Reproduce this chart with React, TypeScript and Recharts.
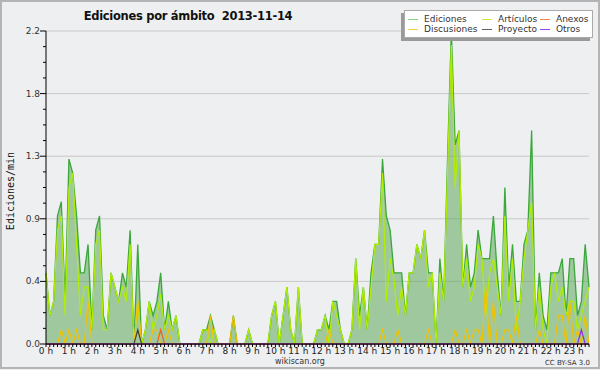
import React from 'react';
import { ComposedChart, Area, Line, XAxis, YAxis, CartesianGrid } from 'recharts';

// 10-minute slots, edits per minute
const ediciones = [
  0.5, 0.2, 0.3, 0.9, 1.0, 0.3, 1.3, 1.2, 0.9, 0.5, 0.5, 0.7,
  0.1, 0.8, 0.9, 0.2, 0.1, 0.5, 0.4, 0.3, 0.5, 0.4, 0.8, 0,
  0.7, 0, 0.1, 0.3, 0.2, 0.3, 0.5, 0.1, 0.3, 0.1, 0.2, 0,
  0, 0, 0, 0, 0, 0.1, 0.1, 0.2, 0.1, 0, 0, 0,
  0, 0.2, 0, 0, 0, 0.1, 0, 0, 0, 0, 0, 0.2,
  0.3, 0, 0.2, 0.4, 0.1, 0, 0.4, 0, 0, 0, 0, 0.1,
  0.1, 0.2, 0.1, 0.3, 0.3, 0.1, 0, 0, 0.1, 0.6, 0.2, 0.4,
  0.1, 0.5, 0.7, 0.7, 1.3, 0.9, 0.8, 0.5, 0.5, 0.5, 0.2, 0.5,
  0.5, 0.7, 0.6, 0.8, 0.5, 0.5, 0, 0.6, 0.3, 1.3, 2.2, 1.4,
  1.5, 0.4, 0.7, 0.4, 0.5, 0.8, 0.6, 0.6, 0.6, 0.9, 0.5, 0.2,
  1.1, 0.4, 0.7, 0.3, 0.3, 0.7, 0.8, 1.5, 0.1, 0.5, 0.2, 0.1,
  0.5, 0.5, 0.5, 0.6, 0.2, 0.6, 0.6, 0.2, 0.3, 0.7, 0.4,
];

const articulos = [
  0.5, 0.2, 0.3, 0.8, 0.9, 0.2, 1.1, 1.2, 0.7, 0.2, 0.4, 0.4,
  0.1, 0.7, 0.8, 0.1, 0.1, 0.5, 0.4, 0.3, 0.4, 0.3, 0.7, 0,
  0.3, 0, 0.1, 0.3, 0.1, 0.2, 0.35, 0.1, 0.2, 0.1, 0.2, 0,
  0, 0, 0, 0, 0, 0.1, 0.1, 0, 0.1, 0, 0, 0,
  0, 0, 0, 0, 0, 0.1, 0, 0, 0, 0, 0, 0.2,
  0.3, 0, 0.2, 0.4, 0.1, 0, 0.4, 0, 0, 0, 0, 0.1,
  0.1, 0.2, 0, 0.3, 0.2, 0.1, 0, 0, 0.1, 0.6, 0.1, 0.4,
  0.1, 0.4, 0.7, 0.7, 1.2, 0.3, 0.6, 0.45, 0.2, 0.4, 0.2, 0.5,
  0.5, 0.7, 0.6, 0.8, 0.4, 0.5, 0, 0.5, 0.3, 1.2, 2.1, 1.1,
  1.5, 0.4, 0.6, 0.3, 0.4, 0.7, 0.6, 0.2, 0.5, 0.6, 0.4, 0.2,
  0.9, 0.3, 0.6, 0.1, 0.3, 0.6, 0.8, 1.0, 0.1, 0.4, 0.1, 0,
  0.4, 0.5, 0.3, 0.4, 0.2, 0.3, 0.3, 0.1, 0.2, 0.3, 0.4,
];

const discusiones = [
  0, 0, 0, 0, 0.1, 0, 0.1, 0, 0.1, 0, 0, 0.3,
  0, 0, 0, 0, 0, 0, 0, 0, 0, 0, 0, 0,
  0.3, 0, 0, 0, 0.1, 0.1, 0, 0, 0.1, 0, 0, 0,
  0, 0, 0, 0, 0, 0, 0, 0.2, 0, 0, 0, 0,
  0, 0.2, 0, 0, 0, 0, 0, 0, 0, 0, 0, 0,
  0, 0, 0, 0, 0, 0, 0, 0, 0, 0, 0, 0,
  0, 0, 0.1, 0, 0, 0, 0, 0, 0, 0, 0, 0,
  0, 0, 0, 0, 0.1, 0, 0, 0, 0.1, 0, 0, 0,
  0, 0, 0, 0, 0.1, 0, 0, 0, 0, 0, 0, 0.1,
  0, 0, 0.1, 0, 0.1, 0.1, 0, 0.4, 0, 0.3, 0, 0,
  0.1, 0.1, 0, 0.2, 0, 0, 0, 0, 0, 0.1, 0, 0,
  0, 0, 0.2, 0.2, 0, 0.3, 0, 0.1, 0, 0.2, 0,
];

const proyecto = [
  0, 0, 0, 0, 0, 0, 0, 0, 0, 0, 0, 0,
  0, 0, 0, 0, 0, 0, 0, 0, 0, 0, 0, 0,
  0.1, 0, 0, 0, 0, 0, 0, 0, 0, 0, 0, 0,
  0, 0, 0, 0, 0, 0, 0, 0, 0, 0, 0, 0,
  0, 0, 0, 0, 0, 0, 0, 0, 0, 0, 0, 0,
  0, 0, 0, 0, 0, 0, 0, 0, 0, 0, 0, 0,
  0, 0, 0, 0, 0, 0, 0, 0, 0, 0, 0, 0,
  0, 0, 0, 0, 0, 0, 0, 0, 0, 0, 0, 0,
  0, 0, 0, 0, 0, 0, 0, 0, 0, 0, 0, 0,
  0, 0, 0, 0, 0, 0, 0, 0, 0, 0, 0, 0,
  0, 0, 0, 0, 0, 0, 0, 0, 0, 0, 0, 0,
  0, 0, 0, 0, 0, 0, 0, 0, 0, 0, 0,
];

const anexos = [
  0, 0, 0, 0, 0, 0, 0, 0, 0, 0, 0, 0,
  0, 0, 0, 0, 0, 0, 0, 0, 0, 0, 0, 0,
  0, 0, 0, 0, 0, 0, 0.1, 0, 0, 0, 0, 0,
  0, 0, 0, 0, 0, 0, 0, 0, 0, 0, 0, 0,
  0, 0, 0, 0, 0, 0, 0, 0, 0, 0, 0, 0,
  0, 0, 0, 0, 0, 0, 0, 0, 0, 0, 0, 0,
  0, 0, 0, 0, 0, 0, 0, 0, 0, 0, 0, 0,
  0, 0, 0, 0, 0, 0, 0, 0, 0, 0, 0, 0,
  0, 0, 0, 0, 0, 0, 0, 0, 0, 0, 0, 0,
  0, 0, 0, 0, 0, 0, 0, 0, 0, 0, 0, 0,
  0, 0, 0, 0, 0, 0, 0, 0, 0, 0, 0, 0,
  0, 0, 0, 0, 0, 0, 0, 0, 0, 0, 0,
];

const otros = [
  0, 0, 0, 0, 0, 0, 0, 0, 0, 0, 0, 0,
  0, 0, 0, 0, 0, 0, 0, 0, 0, 0, 0, 0,
  0, 0, 0, 0, 0, 0, 0, 0, 0, 0, 0, 0,
  0, 0, 0, 0, 0, 0, 0, 0, 0, 0, 0, 0,
  0, 0, 0, 0, 0, 0, 0, 0, 0, 0, 0, 0,
  0, 0, 0, 0, 0, 0, 0, 0, 0, 0, 0, 0,
  0, 0, 0, 0, 0, 0, 0, 0, 0, 0, 0, 0,
  0, 0, 0, 0, 0, 0, 0, 0, 0, 0, 0, 0,
  0, 0, 0, 0, 0, 0, 0, 0, 0, 0, 0, 0,
  0, 0, 0, 0, 0, 0, 0, 0, 0, 0, 0, 0,
  0, 0, 0, 0, 0, 0, 0, 0, 0, 0, 0, 0,
  0, 0, 0, 0, 0, 0, 0, 0, 0.1, 0, 0,
];

const hourLabels = [
  '0 h', '1 h', '2 h', '3 h', '4 h', '5 h', '6 h', '7 h', '8 h', '9 h', '10 h', '11 h',
  '12 h', '13 h', '14 h', '15 h', '16 h', '17 h', '18 h', '19 h', '20 h', '21 h', '22 h', '23 h',
];

const yMajorTicks = [0, 0.44, 0.88, 1.32, 1.76, 2.2];

const legendItems = [
  { name: 'Ediciones', color: '#7fd37f' },
  { name: 'Artículos', color: '#c6f03c' },
  { name: 'Anexos', color: '#f6844c' },
  { name: 'Discusiones', color: '#f8d040' },
  { name: 'Proyecto', color: '#606060' },
  { name: 'Otros', color: '#9a44f0' },
];

const rows = ediciones.map((v, i) => ({
  slot: i,
  ediciones: v,
  articulos: articulos[i],
  discusiones: discusiones[i],
  proyecto: proyecto[i],
  anexos: anexos[i],
  otros: otros[i],
}));

const slotTicks = rows.map((r) => r.slot);
const yTicks = Array.from({ length: 21 }, (_, k) => Number((k * 0.11).toFixed(2)));

const FONT = '"DejaVu Sans", sans-serif';

const XTick = (props: any) => {
  const { x, y, payload } = props;
  const isHour = payload.value % 6 === 0;
  return (
    <g>
      <line x1={x} x2={x} y1={y} y2={y + 3} stroke="#000" />
      {isHour && (
        <text x={x} y={y + 10} textAnchor="middle" fontSize={9} fill="#222" fontFamily={FONT}>
          {hourLabels[payload.value / 6]}
        </text>
      )}
    </g>
  );
};

const YTick = (props: any) => {
  const { x, y, payload } = props;
  const isMajor = Math.round(payload.value / 0.11) % 4 === 0;
  return (
    <g>
      <line x1={x - (isMajor ? 6 : 3)} x2={x} y1={y} y2={y} stroke="#000" />
      {isMajor && (
        <text x={x - 6} y={y + 3} textAnchor="end" fontSize={9} fill="#333" fontFamily={FONT}>
          {payload.value.toFixed(1)}
        </text>
      )}
    </g>
  );
};

export default function App() {
  return (
    <div style={{ position: 'fixed', left: 0, top: 0, width: 600, height: 370, background: '#eeeff1' }}>
      <ComposedChart
        width={600}
        height={370}
        data={rows}
        margin={{ top: 31, right: 11, bottom: 0, left: 0 }}
      >
        <CartesianGrid horizontal vertical={false} stroke="#c8c8c8" horizontalValues={yMajorTicks} />
        <Area
          type="linear"
          dataKey="ediciones"
          stroke="#3aa83a"
          strokeWidth={1.3}
          fill="#50a24c"
          fillOpacity={0.5}
          isAnimationActive={false}
        />
        <Line type="linear" dataKey="articulos" stroke="#b2ee00" strokeWidth={1.2} dot={false} isAnimationActive={false} />
        <Line type="linear" dataKey="discusiones" stroke="#f2c200" strokeWidth={1.2} dot={false} isAnimationActive={false} />
        <Line type="linear" dataKey="proyecto" stroke="#404040" strokeWidth={1.2} dot={false} isAnimationActive={false} />
        <Line type="linear" dataKey="anexos" stroke="#f0601c" strokeWidth={1.2} dot={false} isAnimationActive={false} />
        <Line type="linear" dataKey="otros" stroke="#8a30ee" strokeWidth={1.2} dot={false} isAnimationActive={false} />
        <XAxis
          dataKey="slot"
          type="number"
          domain={[0, 142]}
          ticks={slotTicks}
          interval={0}
          height={26}
          tickSize={0}
          tickMargin={0}
          tickLine={false}
          axisLine={{ stroke: '#000' }}
          tick={<XTick />}
        />
        <YAxis
          type="number"
          domain={[0, 2.2]}
          ticks={yTicks}
          interval={0}
          width={46}
          tickSize={0}
          tickMargin={0}
          tickLine={false}
          axisLine={{ stroke: '#000' }}
          tick={<YTick />}
        />
      </ComposedChart>

      <svg width={600} height={370} style={{ position: 'absolute', left: 0, top: 0, pointerEvents: 'none' }}>
        <text
          x={188}
          y={20}
          textAnchor="middle"
          fontSize={11.5}
          letterSpacing={-0.3}
          fontWeight="bold"
          fill="#111"
          fontFamily={FONT}
        >
          Ediciones por ámbito{'\u00a0\u00a0'}2013-11-14
        </text>
        <text
          x={14}
          y={191}
          transform="rotate(-90 14 191)"
          textAnchor="middle"
          fontSize={10}
          fill="#111"
          fontFamily={'"DejaVu Sans Mono", monospace'}
        >
          Ediciones/min
        </text>
        <text x={300} y={364} textAnchor="middle" fontSize={8} fill="#333" fontFamily={FONT}>
          wikiscan.org
        </text>
        <text x={590} y={365} textAnchor="end" fontSize={7} fill="#333" fontFamily={FONT}>
          CC BY-SA 3.0
        </text>
        <rect x={1} y={1} width={598} height={367} fill="none" stroke="#b4b4b4" strokeWidth={2} />
      </svg>

      <div
        style={{
          position: 'absolute',
          left: 404,
          top: 10,
          width: 189,
          height: 28,
          boxSizing: 'border-box',
          background: '#fff',
          border: '1px solid #aaa',
          boxShadow: '-3px 3px 0 #9a9a9a',
          fontFamily: FONT,
          fontSize: 9,
          color: '#333',
        }}
      >
        {legendItems.map((item, k) => {
          const col = k % 3;
          const row = Math.floor(k / 3);
          const left = [3, 77, 135][col];
          return (
            <div
              key={item.name}
              style={{ position: 'absolute', left, top: 3 + row * 10, height: 10, display: 'flex', alignItems: 'center', whiteSpace: 'nowrap' }}
            >
              <span style={{ display: 'inline-block', width: 10, height: 1, background: item.color, marginRight: 6 }} />
              <span>{item.name}</span>
            </div>
          );
        })}
      </div>
    </div>
  );
}
